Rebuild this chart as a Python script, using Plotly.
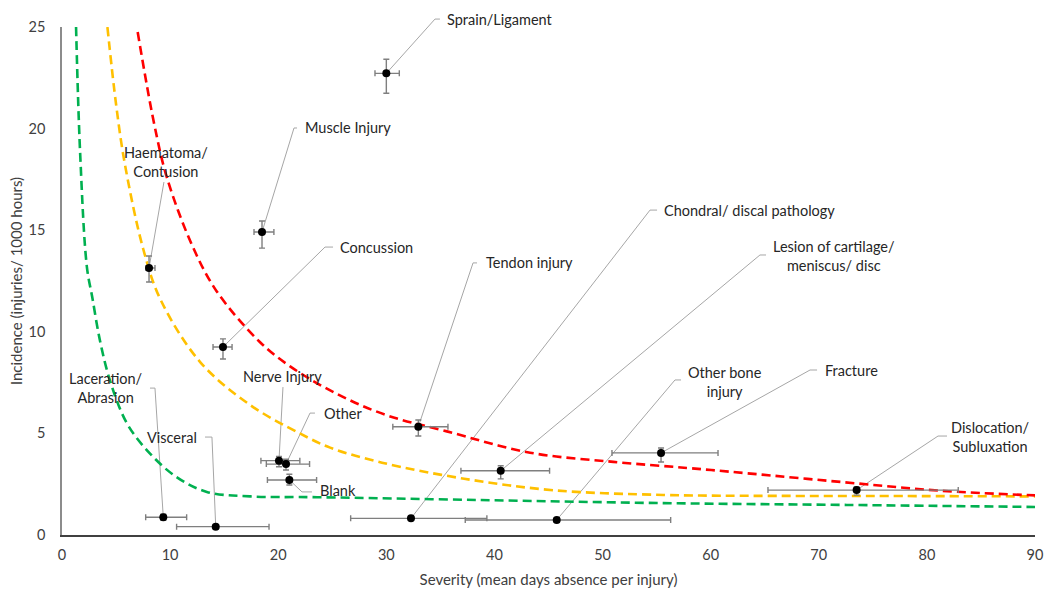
import plotly.graph_objects as go

# ---------------- data ----------------
injury_types = ["Sprain/Ligament", "Muscle Injury", "Haematoma/Contusion", "Concussion",
                "Nerve Injury", "Other", "Blank", "Laceration/Abrasion", "Visceral",
                "Tendon injury", "Lesion of cartilage/meniscus/disc", "Chondral/discal pathology",
                "Other bone injury", "Fracture", "Dislocation/Subluxation"]
severity = [30.0, 18.5, 8.05, 14.89, 20.07, 20.72, 21.03, 9.37, 14.22, 32.96, 40.58, 32.28, 45.76, 55.41, 73.5]
severity_err_minus = [1.05, 0.74, 0.28, 0.92, 1.67, 1.82, 2.03, 1.63, 3.62, 2.36, 3.68, 5.58, 8.46, 4.54, 8.2]
severity_err_plus = [1.2, 1.1, 0.55, 0.84, 1.93, 2.18, 2.52, 2.16, 4.93, 2.74, 4.52, 7.02, 10.54, 5.27, 9.4]
incidence = [22.72, 14.91, 13.14, 9.25, 3.66, 3.49, 2.71, 0.87, 0.41, 5.33, 3.16, 0.82, 0.74, 4.04, 2.21]
incidence_err_minus = [0.98, 0.79, 0.69, 0.59, 0.3, 0.29, 0.25, 0.15, 0.1, 0.46, 0.4, 0.1, 0.12, 0.45, 0.25]
incidence_err_plus = [0.69, 0.54, 0.59, 0.4, 0.2, 0.24, 0.28, 0.15, 0.1, 0.33, 0.25, 0.1, 0.1, 0.24, 0.15]

# risk contour curves
red_x = [7.0, 8.5, 9.7, 12.0, 14.3, 18.3, 21.1, 25.4, 30.0, 35.6, 43.3, 51.0, 57.8, 63.3, 73.5, 81.2, 90.0]
red_y = [24.75, 20.3, 17.6, 14.3, 12.0, 9.5, 8.3, 6.95, 5.9, 5.1, 4.05, 3.6, 3.3, 3.04, 2.54, 2.18, 1.95]
yellow_x = [4.2, 5.0, 5.8, 7.5, 9.1, 12.8, 17.4, 22.0, 24.8, 29.6, 37.2, 45.5, 55.6, 63.0, 75.0, 90.0]
yellow_y = [25.0, 21.2, 18.3, 14.1, 11.6, 8.5, 6.4, 5.0, 4.3, 3.56, 2.77, 2.2, 1.97, 1.93, 1.92, 1.9]
green_x = [1.3, 1.67, 2.3, 2.8, 3.5, 4.44, 6.0, 8.1, 10.6, 13.4, 17.4, 23.6, 38.7, 55.6, 72.6, 90.0]
green_y = [25.0, 18.9, 13.2, 11.7, 9.6, 7.6, 5.5, 4.03, 2.85, 2.12, 1.9, 1.86, 1.72, 1.57, 1.48, 1.38]

x_ticks = [0, 10, 20, 30, 40, 50, 60, 70, 80, 90]
y_ticks = [0, 5, 10, 15, 20, 25]

# ---------------- layout helpers ----------------
XMAX, YMAX = 90, 25
FONT = "Lato, Calibri, sans-serif"
TXT = "#404040"

# label layout: text, label x, label y, xanchor, leader path (after the data point)
labels = [
    ("Sprain/Ligament", 35.43, 25.39, "left", [(34.5, 25.39), (34.96, 25.39)]),
    ("Muscle Injury", 22.29, 20.03, "left", [(21.46, 20.03), (21.74, 20.03)]),
    ("Haematoma/<br>Contusion", 9.62, 18.36, "center", [(9.43, 17.37)]),
    ("Concussion", 25.53, 14.17, "left", [(24.33, 14.17), (25.07, 14.17)]),
    ("Nerve Injury", 20.44, 7.82, "center", [(20.44, 7.28)]),
    ("Other", 24.05, 6.0, "left", [(22.94, 6.0), (23.4, 6.0)]),
    ("Blank", 23.68, 2.17, "left", [(22.2, 2.12), (23.12, 2.12)]),
    ("Laceration/<br>Abrasion", 7.68, 7.23, "right", [(8.6, 7.23), (8.14, 7.23)]),
    ("Visceral", 12.67, 4.82, "right", [(13.87, 4.82), (13.23, 4.82)]),
    ("Tendon injury", 39.03, 13.39, "left", [(38.02, 13.39), (38.39, 13.39)]),
    ("Lesion of cartilage/<br>meniscus/ disc", 65.58, 13.73, "left", [(64.56, 13.78), (65.12, 13.78)]),
    ("Chondral/ discal pathology", 55.5, 15.99, "left", [(54.39, 15.99), (55.04, 15.99)]),
    ("Other bone<br>injury", 57.72, 7.53, "left", [(56.7, 7.63), (57.26, 7.63)]),
    ("Fracture", 70.39, 8.12, "left", [(69.19, 8.12), (69.84, 8.12)]),
    ("Dislocation/<br>Subluxation", 82.05, 4.82, "left", [(81.03, 4.87), (81.86, 4.87)]),
]


def px(x):
    return x / XMAX


def py(y):
    return y / YMAX


fig = go.Figure()

dash = "9px,5px"
for cx, cy, col in [(green_x, green_y, "#00B050"), (yellow_x, yellow_y, "#FFC000"), (red_x, red_y, "#FF0000")]:
    fig.add_trace(go.Scatter(x=cx, y=cy, mode="lines",
                             line=dict(color=col, width=2.6, dash=dash, shape="spline", smoothing=1.0),
                             hoverinfo="skip", showlegend=False))

fig.add_trace(go.Scatter(
    x=severity, y=incidence, mode="markers", text=injury_types,
    marker=dict(color="black", size=8),
    error_x=dict(type="data", symmetric=False, array=severity_err_plus, arrayminus=severity_err_minus,
                 color="#7F7F7F", thickness=1.4, width=3),
    error_y=dict(type="data", symmetric=False, array=incidence_err_plus, arrayminus=incidence_err_minus,
                 color="#7F7F7F", thickness=1.4, width=3),
    showlegend=False))

shapes = []
annotations = []
for i, (txt, lx, ly, anchor, path) in enumerate(labels):
    pts = [(severity[i], incidence[i])] + path
    d = "M " + " L ".join(f"{px(a):.5f},{py(b):.5f}" for a, b in pts)
    shapes.append(dict(type="path", path=d, xref="paper", yref="paper",
                       line=dict(color="#A6A6A6", width=1), layer="below"))
    annotations.append(dict(x=px(lx), y=py(ly), xref="paper", yref="paper", text=txt, showarrow=False,
                            xanchor=anchor, yanchor="middle", align="center",
                            font=dict(family=FONT, size=14.5, color="#262626")))

fig.update_layout(
    width=1045, height=590,
    margin=dict(l=62, r=10, t=27, b=55, autoexpand=False),
    paper_bgcolor="white", plot_bgcolor="white",
    shapes=shapes, annotations=annotations,
    font=dict(family=FONT, color=TXT),
    xaxis=dict(range=[0, XMAX], tickvals=x_ticks, showgrid=False, zeroline=False, automargin=False,
               showline=True, linecolor="#404040", linewidth=1.5, ticks="",
               tickfont=dict(size=14.5, color=TXT), ticklabelstandoff=6, ticklabeloverflow="allow",
               title=dict(text="Severity (mean days absence per injury)", font=dict(size=15, color=TXT),
                          standoff=12)),
    yaxis=dict(range=[0, YMAX], tickvals=y_ticks, showgrid=False, zeroline=False, automargin=False,
               showline=True, linecolor="#8C8C8C", linewidth=1.5, ticks="",
               tickfont=dict(size=14.5, color=TXT), ticklabelstandoff=12,
               title=dict(text="Incidence (injuries/ 1000 hours)", font=dict(size=15, color=TXT),
                          standoff=2)),
)

fig.write_html("out.html", config={"displayModeBar": False},
               post_script="document.body.style.margin='0';document.body.style.overflow='hidden';")
